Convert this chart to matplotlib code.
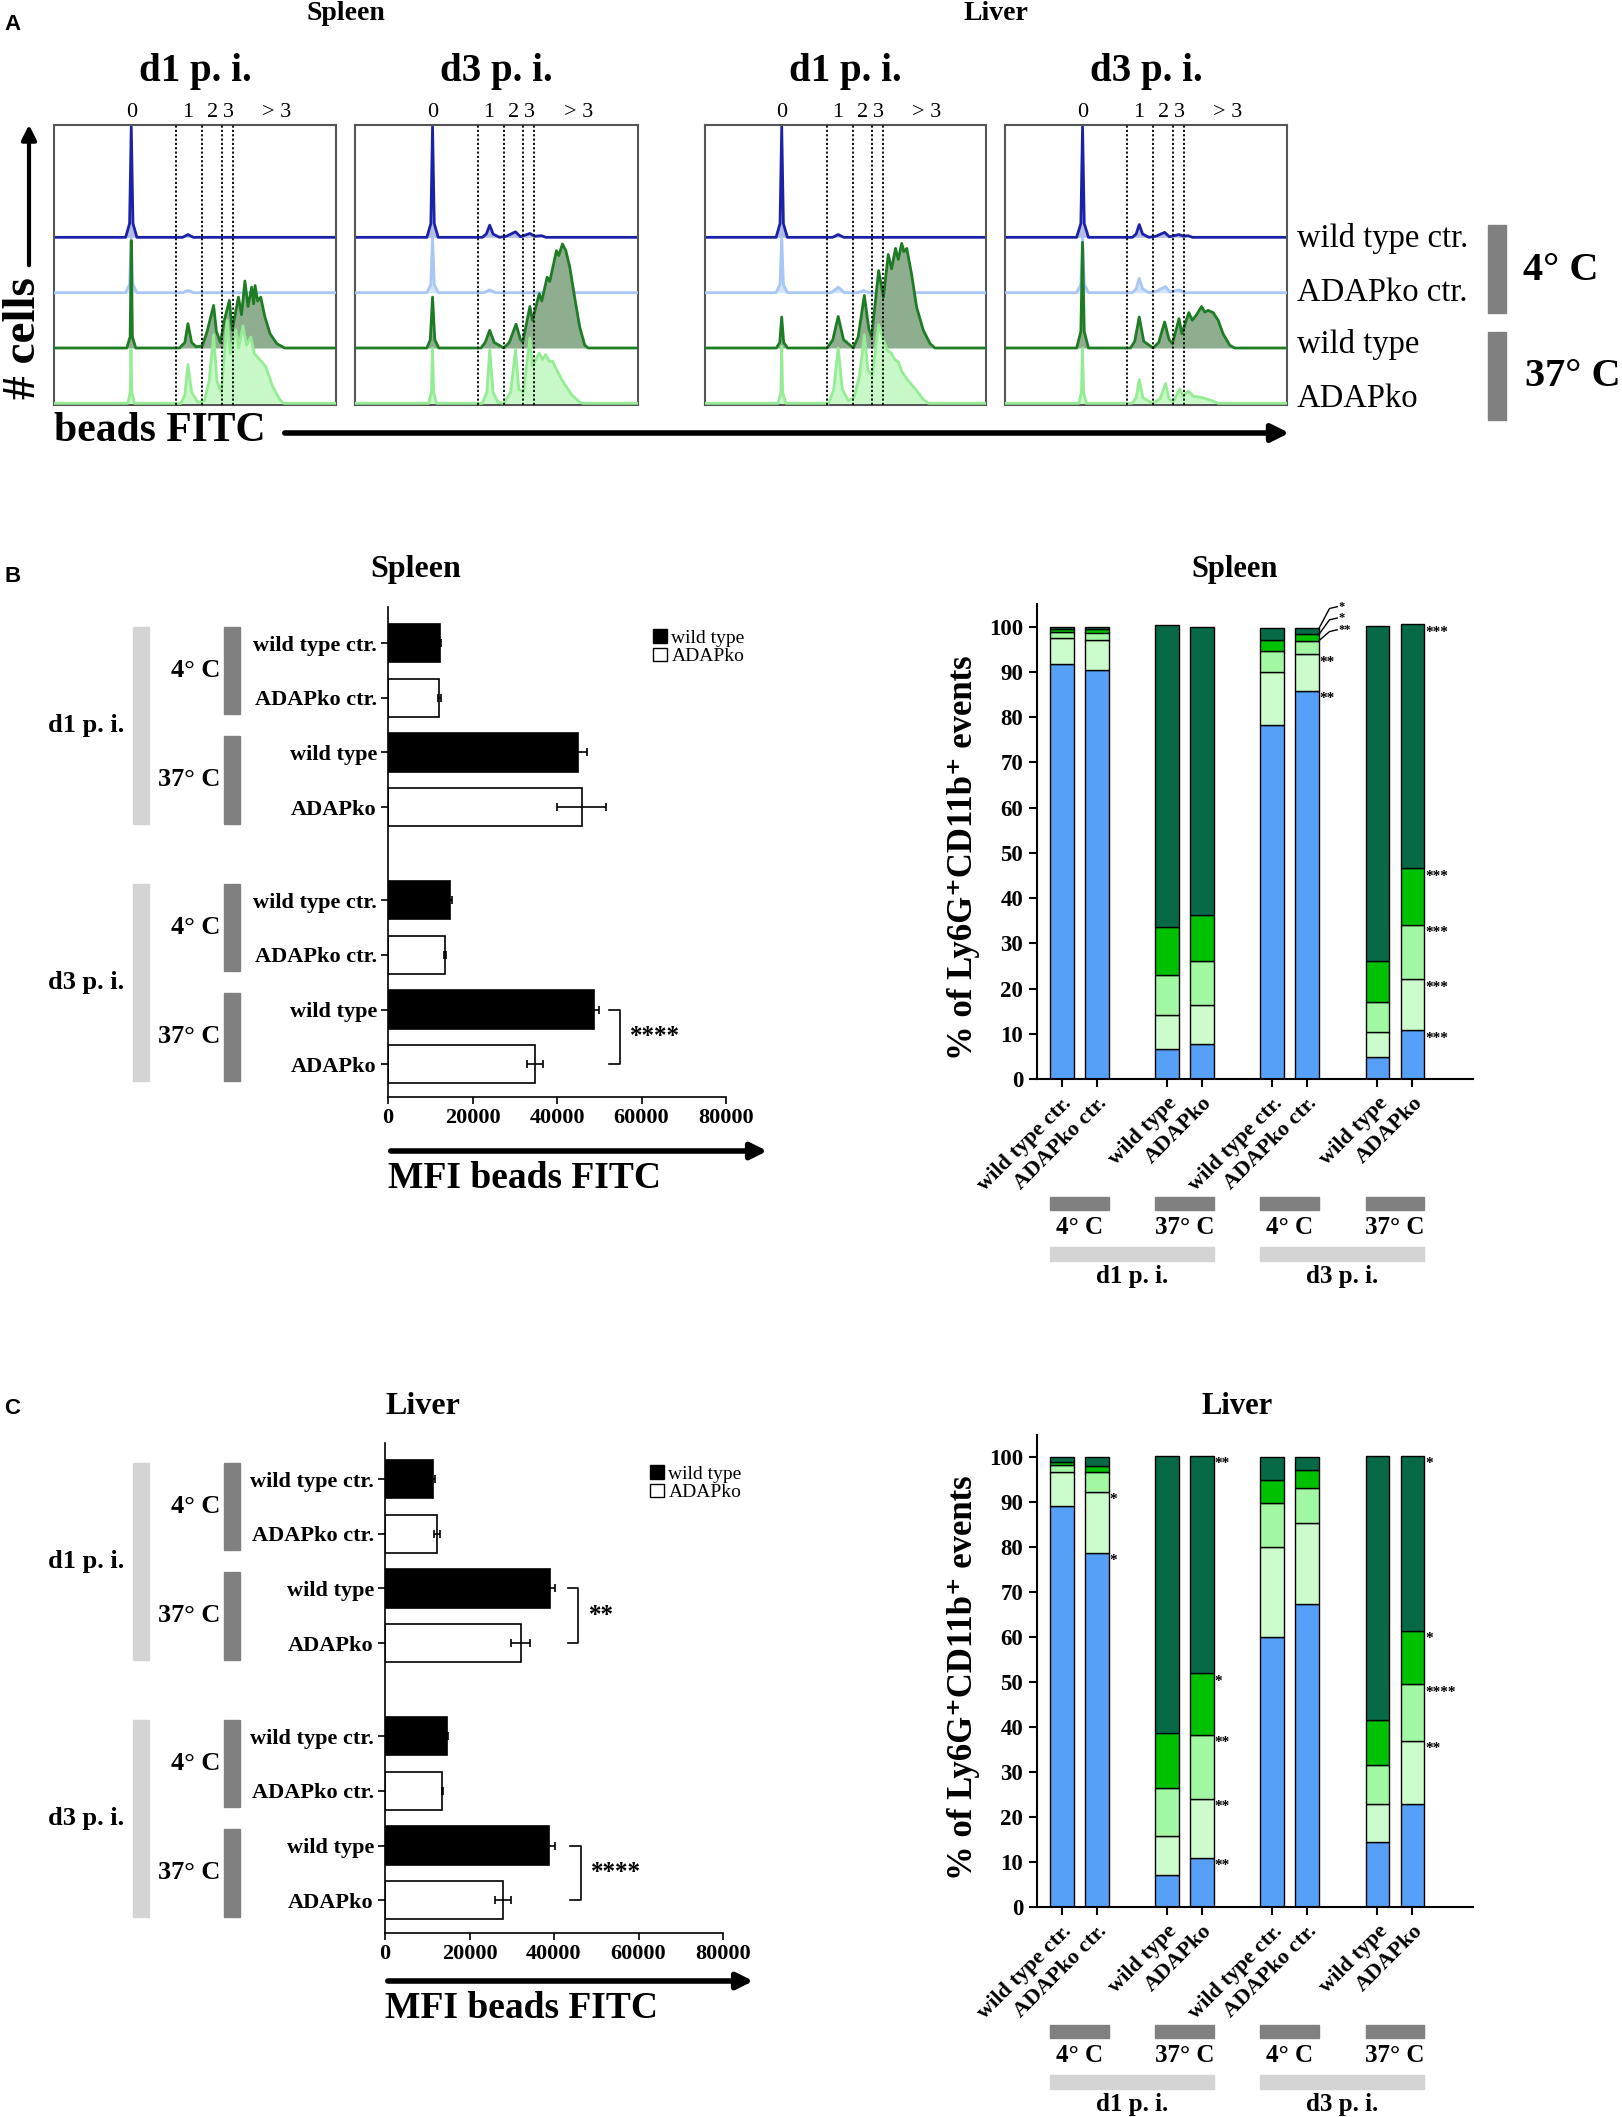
import numpy as np
import matplotlib.pyplot as plt
from matplotlib.patches import Rectangle, Patch
from matplotlib import transforms

plt.rcParams['font.family'] = ['Liberation Serif', 'DejaVu Serif']
plt.rcParams['font.weight'] = 'bold'
plt.rcParams['axes.linewidth'] = 1.5

W, H = 1622, 2117

# ---------------- data: panel A histograms (x = FITC channel 0-100, y = relative count)
spl_d1_wt_ctr = [(0,0),(25.4,0),(26.8,0.25),(27.4,2.0),(28.0,0.25),(29.4,0),(45.6,0),(47.5,0.05),(49.4,0),(100,0)]
spl_d1_ko_ctr = [(0,0),(25.4,0),(26.8,0.15),(27.4,1.0),(28.0,0.15),(29.4,0),(45.6,0),(47.5,0.04),(49.4,0),(100,0)]
spl_d1_wt = [(0,0),(25.8,0),(27.0,0.2),(27.4,1.94),(27.8,0.2),(29.0,0),(44.5,0),(46.4,0.1),(47.5,0.44),(48.8,0.1),
             (50.5,0.02),(52.6,0.04),(54.3,0.3),(56.6,0.77),(57.6,0.3),(59.0,0.1),(60.4,0.5),(62.2,0.86),(63.2,0.32),
             (65.4,0.92),(66.5,0.6),(67.7,1.21),(68.8,0.75),(70.1,1.1),(70.8,0.8),(71.3,1.13),(72.2,0.85),(73.3,0.92),
             (74.8,0.56),(76.6,0.26),(79.0,0.08),(81.8,0),(100,0)]
spl_d1_ko = [(0,0),(26.2,0),(27.0,0.2),(27.3,0.97),(27.6,0.2),(28.5,0),(45.0,0),(46.4,0.15),(47.5,0.70),(48.8,0.2),
             (51.0,0.02),(53.4,0.05),(55.0,0.4),(56.6,1.24),(57.8,0.4),(59.3,0.2),(61.4,1.5),(62.5,0.9),(64.5,1.33),
             (65.5,1.0),(67.0,1.4),(68.3,1.05),(69.8,1.2),(71.0,0.9),(72.5,0.82),(75.0,0.67),(77.5,0.31),(80.0,0.07),
             (81.5,0),(100,0)]

spl_d3_wt_ctr = [(0,0),(25.4,0),(26.8,0.25),(27.4,2.0),(28.0,0.25),(29.4,0),(45.0,0),(46.4,0.06),(47.6,0.22),(48.8,0.06),
                 (51.0,0),(53.5,0.02),(56.7,0.10),(58.5,0.01),(61.8,0.07),(63.5,0.02),(65.9,0.03),(67.5,0),(100,0)]
spl_d3_ko_ctr = [(0,0),(25.4,0),(26.8,0.15),(27.4,1.0),(28.0,0.15),(29.4,0),(45.6,0),(47.6,0.05),(49.6,0),(100,0)]
spl_d3_wt = [(0,0),(25.4,0),(26.6,0.15),(27.4,0.92),(28.2,0.15),(29.6,0),(44.5,0),(46.0,0.1),(47.6,0.32),(49.2,0.1),
             (52.6,0),(54.5,0.1),(56.9,0.43),(58.5,0.15),(59.3,0.11),(61.8,0.75),(62.7,0.5),(65.1,0.98),(66.0,0.85),
             (67.9,1.28),(68.8,1.2),(71.2,1.76),(72.0,1.67),(73.3,1.88),(74.5,1.76),(75.9,1.46),(77.6,0.92),
             (79.4,0.38),(81.2,0.05),(82.4,0),(100,0)]
spl_d3_ko = [(0,0),(26.0,0),(27.0,0.2),(27.4,1.0),(27.8,0.2),(28.8,0),(45.0,0),(46.6,0.2),(47.6,0.97),(48.8,0.2),
             (50.5,0.02),(52.6,0),(55.0,0.2),(56.7,0.97),(57.9,0.25),(59.5,0.2),(61.8,1.18),(62.7,0.67),(65.1,0.91),
             (66.2,0.79),(67.4,0.88),(68.6,0.76),(69.8,0.76),(71.8,0.55),(74.1,0.34),(76.5,0.16),(79.4,0.02),
             (80.6,0),(100,0)]

liv_d1_wt_ctr = [(0,0),(25.3,0),(26.7,0.25),(27.3,2.0),(27.9,0.25),(29.3,0),(45.4,0),(47.4,0.05),(49.4,0),(100,0)]
liv_d1_ko_ctr = [(0,0),(25.3,0),(26.7,0.15),(27.3,1.0),(27.9,0.15),(29.3,0),(45.0,0),(47.4,0.1),(49.6,0),(54.5,0),
                 (56.4,0.04),(58.3,0),(100,0)]
liv_d1_wt = [(0,0),(25.4,0),(26.6,0.1),(27.3,0.56),(28.0,0.1),(29.4,0),(43.5,0),(45.5,0.15),(47.4,0.57),(49.3,0.15),
             (52.8,0),(54.5,0.2),(56.7,0.95),(58.3,0.35),(59.3,0.2),(61.8,1.40),(63.5,0.92),(65.2,1.69),(66.4,1.43),
             (67.8,1.8),(68.8,1.6),(70.0,1.89),(70.8,1.74),(71.8,1.8),(73.5,1.34),(75.3,0.74),(77.7,0.32),
             (80.1,0.08),(81.8,0),(100,0)]
liv_d1_ko = [(0,0),(26.0,0),(27.0,0.2),(27.3,1.03),(27.6,0.2),(28.8,0),(44.0,0),(45.8,0.25),(47.4,1.0),(48.9,0.25),
             (51.0,0.05),(53.0,0.1),(55.0,0.5),(56.7,1.24),(58.0,0.6),(59.5,0.5),(61.8,1.42),(63.5,1.15),(65.0,0.95),
             (66.3,0.91),(67.5,0.79),(68.8,0.75),(70.0,0.58),(72.0,0.43),(75.0,0.25),(77.7,0.07),(79.5,0),(100,0)]

liv_d3_wt_ctr = [(0,0),(25.4,0),(26.9,0.25),(27.5,2.0),(28.1,0.25),(29.6,0),(45.2,0),(46.5,0.06),(47.6,0.23),(48.8,0.06),
                 (51.0,0),(53.5,0.02),(56.6,0.09),(58.3,0.01),(61.7,0.05),(63.3,0.02),(64.9,0.03),(66.5,0),(100,0)]
liv_d3_ko_ctr = [(0,0),(25.4,0),(26.9,0.15),(27.5,1.0),(28.1,0.15),(29.6,0),(45.2,0),(46.5,0.07),(47.6,0.26),(48.8,0.07),
                 (51.0,0),(53.5,0.02),(56.9,0.11),(58.5,0.01),(61.7,0.05),(63.5,0),(100,0)]
liv_d3_wt = [(0,0),(25.4,0),(26.9,0.3),(27.5,1.91),(28.1,0.3),(29.6,0),(44.5,0),(46.0,0.12),(47.6,0.56),(49.2,0.12),
             (52.5,0),(54.5,0.1),(56.6,0.47),(58.2,0.15),(59.4,0.08),(61.7,0.53),(62.7,0.26),(65.2,0.64),(66.4,0.5),
             (67.9,0.6),(69.7,0.75),(70.8,0.65),(72.0,0.68),(73.8,0.64),(75.6,0.5),(77.3,0.26),(79.7,0.05),
             (81.5,0),(100,0)]
liv_d3_ko = [(0,0),(26.2,0),(27.1,0.2),(27.5,1.0),(27.9,0.2),(28.8,0),(45.0,0),(46.5,0.1),(47.6,0.43),(48.9,0.1),
             (52.3,0),(55.0,0.08),(56.9,0.36),(58.2,0.08),(59.6,0.02),(62.0,0.26),(63.0,0.13),(65.0,0.22),(66.8,0.13),
             (70.2,0.1),(73.8,0.04),(75.6,0),(100,0)]

gates = [43.3, 52.6, 59.5, 63.4]
peak_names = ['0', '1', '2', '3', '> 3']
peak_pos = [27.4, 47.3, 56.2, 61.8, 79.0]
row_names = ['wild type ctr.', 'ADAPko ctr.', 'wild type', 'ADAPko']

# ---------------- data: MFI bar charts
mfi_labels = ['wild type ctr.', 'ADAPko ctr.', 'wild type', 'ADAPko'] * 2
spleen_mfi = [12260, 12140, 45000, 45800, 14640, 13450, 48800, 34760]
spleen_mfi_err = [300, 300, 2200, 5800, 400, 300, 1200, 1900]
liver_mfi = [11430, 12270, 39100, 32100, 14680, 13600, 38860, 28030]
liver_mfi_err = [300, 700, 1200, 2200, 300, 150, 1400, 1900]
is_wt = [True, False, True, False, True, False, True, False]

# ---------------- data: bead count distribution (% of Ly6G+CD11b+)
spleen_0 = [91.8, 90.5, 6.7, 7.7, 78.3, 85.8, 4.9, 10.8]
spleen_1 = [5.6, 6.5, 7.5, 8.6, 11.6, 8.1, 5.4, 11.2]
spleen_2 = [1.5, 1.7, 8.9, 9.7, 4.8, 3.0, 6.8, 12.1]
spleen_3 = [0.5, 0.7, 10.5, 10.3, 2.3, 1.4, 9.0, 12.5]
spleen_gt3 = [0.6, 0.6, 66.7, 63.7, 2.8, 1.5, 74.1, 53.9]

liver_0 = [89.3, 78.8, 7.2, 10.9, 60.1, 67.5, 14.4, 22.9]
liver_1 = [7.5, 13.6, 8.7, 13.1, 19.9, 18.0, 8.6, 14.1]
liver_2 = [1.6, 4.3, 10.6, 14.3, 9.9, 7.7, 8.6, 12.5]
liver_3 = [0.6, 1.5, 12.2, 13.7, 5.1, 4.0, 9.9, 12.0]
liver_gt3 = [1.0, 1.8, 61.6, 48.3, 5.0, 2.8, 58.8, 38.8]

spleen_stars = [(5, 93.9, '**'), (5, 85.8, '**'), (7, 100.5, '***'), (7, 46.6, '***'),
                (7, 34.1, '***'), (7, 22.0, '***'), (7, 10.8, '***')]
spleen_lead_stars = [(5, 99.6, 104.4, '*'), (5, 98.3, 101.9, '*'), (5, 96.9, 99.3, '**')]
liver_stars = [(1, 92.4, '*'), (1, 78.8, '*'), (3, 100.3, '**'), (3, 52.0, '*'), (3, 38.3, '**'),
               (3, 24.0, '**'), (3, 10.9, '**'), (7, 100.3, '*'), (7, 61.5, '*'), (7, 49.5, '****'),
               (7, 37.0, '**')]

seg_colors = ['#56a0f7', '#ccfbcc', '#a2f7a2', '#00c100', '#076a47']

# ---------------- figure
fig = plt.figure(figsize=(W / 100, H / 100), dpi=100)
ov = fig.add_axes([0, 0, 1, 1], zorder=10)
ov.set_xlim(0, W)
ov.set_ylim(H, 0)
ov.axis('off')


def px_axes(l, t, r, b):
    ax = fig.add_axes([l / W, 1 - b / H, (r - l) / W, (b - t) / H])
    ax.set_facecolor('none')
    return ax


def label(x, y, s, size, **kw):
    kw.setdefault('ha', 'center')
    kw.setdefault('va', 'center')
    ov.text(x, y, s, fontsize=size, **kw)


# ===== panel A
label(4, 24, 'A', 16, ha='left', family='Liberation Sans')
label(346, 14, 'Spleen', 20)
label(996, 14, 'Liver', 20)

hist_boxes = [(54, 336), (355, 638), (705, 986), (1005, 1287)]
hist_titles = ['d1 p. i.', 'd3 p. i.', 'd1 p. i.', 'd3 p. i.']
hist_sets = [[spl_d1_wt_ctr, spl_d1_ko_ctr, spl_d1_wt, spl_d1_ko],
             [spl_d3_wt_ctr, spl_d3_ko_ctr, spl_d3_wt, spl_d3_ko],
             [liv_d1_wt_ctr, liv_d1_ko_ctr, liv_d1_wt, liv_d1_ko],
             [liv_d3_wt_ctr, liv_d3_ko_ctr, liv_d3_wt, liv_d3_ko]]
line_cols = ['#1c22a8', '#a8c6f6', '#1e7d24', '#95ec95']
fill_cols = ['#b4bce6', '#d2e3fb', '#8fae8f', '#c8f7c8']

for (l, r), curves, ttl in zip(hist_boxes, hist_sets, hist_titles):
    ax = px_axes(l, 125, r, 405)
    for k, curve in enumerate(curves):
        off = 3 - k
        xs, ys = np.array(curve).T
        ax.fill_between(xs, off, ys + off, color=fill_cols[k], lw=0, zorder=2 + k)
        ax.plot(xs, ys + off, color=line_cols[k], lw=2, zorder=2 + k)
    for g in gates:
        ax.axvline(g, color='k', ls=(0, (1.2, 1.2)), lw=1.3, zorder=8)
    ax.set_xlim(0, 100)
    ax.set_ylim(-0.03, 5.03)
    ax.set_xticks([])
    ax.set_yticks([])
    for s in ax.spines.values():
        s.set_color('#555555')
    for nm, p in zip(peak_names, peak_pos):
        ax.text(p, 5.25, nm, ha='center', va='center', fontsize=16, fontweight='normal', clip_on=False)
    label((l + r) / 2, 72, ttl, 28)

for y, nm in zip([238, 293, 345, 399], row_names):
    label(1297, y, nm, 23.5, ha='left', fontweight='normal')
ov.add_patch(Rectangle((1488, 225), 18, 88, color='#808080'))
ov.add_patch(Rectangle((1488, 332), 18, 88, color='#808080'))
label(1523, 270, '4° C', 29, ha='left')
label(1525, 377, '37° C', 29, ha='left')

label(24, 338, '# cells', 34, rotation=90)
ov.annotate('', xy=(29, 122), xytext=(29, 268),
            arrowprops=dict(arrowstyle='-|>', lw=3, color='k', mutation_scale=22))
label(54, 431, 'beads FITC', 30, ha='left')
ov.annotate('', xy=(1292, 433), xytext=(282, 433),
            arrowprops=dict(arrowstyle='-|>', lw=4, color='k', mutation_scale=26))

# ===== MFI bar charts (B, C left)
mfi_pos = [0, 1, 2, 3, 4.7, 5.7, 6.7, 7.7]


def mfi_panel(l, t, r, b, vals, errs, brackets):
    ax = px_axes(l, t, r, b)
    cols = ['k' if w else 'w' for w in is_wt]
    ax.barh(mfi_pos, vals, height=0.7, color=cols, edgecolor='k', lw=1.2,
            xerr=errs, error_kw=dict(ecolor='k', elinewidth=1.2, capsize=3, capthick=1.2))
    ax.set_ylim(8.3, -0.66)
    ax.set_xlim(0, 80000)
    ax.set_xticks([0, 20000, 40000, 60000, 80000])
    ax.set_xticklabels(['0', '20000', '40000', '60000', '80000'], fontsize=16)
    ax.set_yticks(mfi_pos)
    ax.set_yticklabels(mfi_labels, fontsize=16)
    ax.tick_params(length=5, width=1.2, pad=3)
    for s in ['top', 'right']:
        ax.spines[s].set_visible(False)
    for s in ['left', 'bottom']:
        ax.spines[s].set_linewidth(1.2)
    for (x0, x1, p0, p1, txt) in brackets:
        ax.plot([x0, x1, x1, x0], [p0, p0, p1, p1], color='k', lw=1.2, clip_on=False)
        ax.text(x1 + 2500, (p0 + p1) / 2, txt, fontsize=18, ha='left', va='center')
    ax.legend(handles=[Patch(facecolor='k', edgecolor='k', label='wild type'),
                       Patch(facecolor='w', edgecolor='k', label='ADAPko')],
              loc='upper left', bbox_to_anchor=(0.755, 0.975), frameon=False,
              handlelength=0.7, handleheight=0.7, handletextpad=0.25, labelspacing=0.05,
              borderpad=0, prop=dict(size=14, weight='normal'))
    # grouping bars at the left
    bl = transforms.blended_transform_factory(ov.transData, ax.transData)
    for i, temp in zip([0, 2, 4, 6], ['4° C', '37° C', '4° C', '37° C']):
        p0, p1 = mfi_pos[i] - 0.3, mfi_pos[i + 1] + 0.3
        ov.add_patch(Rectangle((224, p0), 16, p1 - p0, color='#808080', transform=bl, clip_on=False))
        ov.text(220, (mfi_pos[i] + mfi_pos[i + 1]) / 2, temp, fontsize=19, ha='right', va='center', transform=bl)
    for i, day in zip([0, 4], ['d1 p. i.', 'd3 p. i.']):
        p0, p1 = mfi_pos[i] - 0.3, mfi_pos[i + 3] + 0.3
        ov.add_patch(Rectangle((133, p0), 16, p1 - p0, color='#d4d4d4', transform=bl, clip_on=False))
        ov.text(86, (mfi_pos[i] + mfi_pos[i + 3]) / 2, day, fontsize=19, ha='center', va='center', transform=bl)
    return ax


label(4, 576, 'B', 16, ha='left', family='Liberation Sans')
label(416, 569, 'Spleen', 23)
mfi_panel(388, 607, 726, 1097, spleen_mfi, spleen_mfi_err,
          [(52400, 54800, 6.7, 7.7, '****')])
ov.annotate('', xy=(770, 1151), xytext=(388, 1151),
            arrowprops=dict(arrowstyle='-|>', lw=4, color='k', mutation_scale=24))
label(388, 1178, 'MFI beads FITC', 27, ha='left')

label(4, 1409, 'C', 16, ha='left', family='Liberation Sans')
label(423, 1406, 'Liver', 23)
mfi_panel(385, 1443, 723, 1933, liver_mfi, liver_mfi_err,
          [(43300, 45700, 2, 3, '**'), (43700, 46300, 6.7, 7.7, '****')])
ov.annotate('', xy=(756, 1981), xytext=(385, 1981),
            arrowprops=dict(arrowstyle='-|>', lw=4, color='k', mutation_scale=24))
label(385, 2008, 'MFI beads FITC', 27, ha='left')

# ===== stacked bead-count charts (B, C right)
stack_pos = [0, 1, 3, 4, 6, 7, 9, 10]
stack_labels = ['wild type ctr.', 'ADAPko ctr.', 'wild type', 'ADAPko'] * 2


def stack_panel(t, b, segs, stars, lead_stars):
    ax = px_axes(1037, t, 1473, b)
    bottom = np.zeros(len(stack_pos))
    for seg, c in zip(segs, seg_colors):
        ax.bar(stack_pos, seg, bottom=bottom, width=0.67, color=c, edgecolor='k', lw=1)
        bottom += np.array(seg)
    ax.set_xlim(-0.71, 11.73)
    ax.set_ylim(0, 105)
    ax.set_yticks(range(0, 101, 10))
    ax.set_yticklabels([str(v) for v in range(0, 101, 10)], fontsize=16.5)
    ax.set_xticks(stack_pos)
    ax.set_xticklabels(stack_labels, fontsize=16, rotation=45, ha='right', va='top',
                       rotation_mode='anchor')
    ax.tick_params(length=6, width=1.5, pad=4)
    for s in ['top', 'right']:
        ax.spines[s].set_visible(False)
    for (i, y, txt) in stars:
        ax.text(stack_pos[i] + 0.36, y - 0.3, txt, fontsize=11, ha='left', va='top')
    for (i, y0, y1, txt) in lead_stars:
        x0 = stack_pos[i] + 0.335
        ax.plot([x0, x0 + 0.3, x0 + 0.52], [y0, y1 - 0.4, y1], color='k', lw=1, clip_on=False)
        ax.text(x0 + 0.55, y1, txt, fontsize=9, ha='left', va='center', clip_on=False)
    # grouping bars underneath
    bl = transforms.blended_transform_factory(ax.transData, ov.transData)
    off = b - 1079
    for i, temp in zip([0, 2, 4, 6], ['4° C', '37° C', '4° C', '37° C']):
        x0, x1 = stack_pos[i] - 0.335, stack_pos[i + 1] + 0.335
        ov.add_patch(Rectangle((x0, 1197 + off), x1 - x0, 13, color='#808080', transform=bl, clip_on=False))
        ov.text((x0 + x1) / 2, 1228 + off, temp, fontsize=18, ha='center', va='center', transform=bl)
    for i, day in zip([0, 4], ['d1 p. i.', 'd3 p. i.']):
        x0, x1 = stack_pos[i] - 0.335, stack_pos[i + 3] + 0.335
        ov.add_patch(Rectangle((x0, 1247 + off), x1 - x0, 14, color='#d4d4d4', transform=bl, clip_on=False))
        ov.text((x0 + x1) / 2, 1277 + off, day, fontsize=18, ha='center', va='center', transform=bl)
    return ax


label(1235, 569, 'Spleen', 22)
stack_panel(604, 1079, [spleen_0, spleen_1, spleen_2, spleen_3, spleen_gt3], spleen_stars, spleen_lead_stars)
label(963, 858, '% of Ly6G⁺CD11b⁺ events', 25, rotation=90)

label(1237, 1406, 'Liver', 22)
stack_panel(1435, 1907, [liver_0, liver_1, liver_2, liver_3, liver_gt3], liver_stars, [])
label(963, 1678, '% of Ly6G⁺CD11b⁺ events', 25, rotation=90)

fig.savefig('out.png', dpi=100)
